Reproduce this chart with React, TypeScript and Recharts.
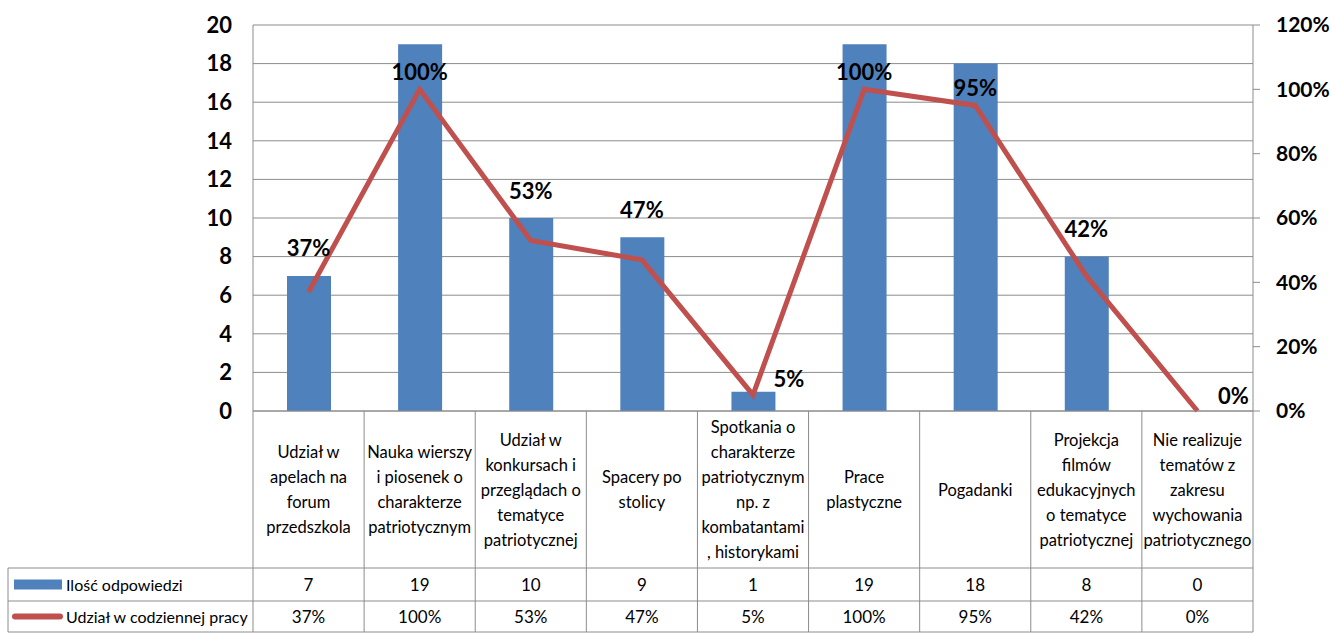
import { Bar, CartesianGrid, ComposedChart, Line, XAxis, YAxis } from "recharts";

const categories = [
    "Udział w\napelach na\nforum\nprzedszkola",
    "Nauka wierszy\ni piosenek o\ncharakterze\npatriotycznym",
    "Udział w\nkonkursach i\nprzeglądach o\ntematyce\npatriotycznej",
    "Spacery po\nstolicy",
    "Spotkania o\ncharakterze\npatriotycznym\nnp. z\nkombatantami\n, historykami",
    "Prace\nplastyczne",
    "Pogadanki",
    "Projekcja\nfilmów\nedukacyjnych\no tematyce\npatriotycznej",
    "Nie realizuje\ntematów z\nzakresu\nwychowania\npatriotycznego",
];

const answerCounts = [7, 19, 10, 9, 1, 19, 18, 8, 0];
const dailyShare = [37, 100, 53, 47, 5, 100, 95, 42, 0];

const countTicks = [0, 2, 4, 6, 8, 10, 12, 14, 16, 18, 20];
const shareTicks = [0, 20, 40, 60, 80, 100, 120];

const seriesNames = ["Ilość odpowiedzi", "Udział w codziennej pracy"];

const data = categories.map((name, i) => ({
    name,
    count: answerCounts[i],
    share: dailyShare[i],
}));

const BLUE = "#4F81BD";
const RED = "#C0504D";
const GRID = "#8c8c8c";
const FONT = 'Lato, "Liberation Sans", sans-serif';

// plot area in page pixels
const W = 1334;
const H = 633;
const plot = { left: 253, right: 1253, top: 25, bottom: 411 };
const plotH = plot.bottom - plot.top;
const colW = (plot.right - plot.left) / categories.length;
const rowTop = 568;
const rowMid = 601;
const rowEnd = 632;

const TableTick = (props: any) => {
    const { x, payload, index } = props;
    const lines = String(payload.value).split("\n");
    const lineH = 25;
    const startY = (plot.bottom + rowTop) / 2 - ((lines.length - 1) * lineH) / 2;
    const left = x - colW / 2;
    return (
        <g>
            <line x1={left} y1={plot.bottom} x2={left} y2={rowEnd} stroke={GRID} />
            {index === categories.length - 1 && (
                <line x1={left + colW} y1={plot.bottom} x2={left + colW} y2={rowEnd} stroke={GRID} />
            )}
            {lines.map((t, i) => (
                <text key={i} x={x} y={startY + i * lineH} textAnchor="middle" dominantBaseline="central" fontSize={16.5} fill="#000">
                    {t}
                </text>
            ))}
            <text x={x} y={(rowTop + rowMid) / 2} textAnchor="middle" dominantBaseline="central" fontSize={17} fill="#000">
                {answerCounts[index]}
            </text>
            <text x={x} y={(rowMid + rowEnd) / 2} textAnchor="middle" dominantBaseline="central" fontSize={17} fill="#000">
                {dailyShare[index]}%
            </text>
            {index === 0 && (
                <g>
                    <line x1={8} y1={rowTop} x2={plot.right} y2={rowTop} stroke={GRID} />
                    <line x1={8} y1={rowMid} x2={plot.right} y2={rowMid} stroke={GRID} />
                    <line x1={8} y1={rowEnd} x2={plot.right} y2={rowEnd} stroke={GRID} />
                    <line x1={8} y1={rowTop} x2={8} y2={rowEnd} stroke={GRID} />
                    <rect x={14} y={(rowTop + rowMid) / 2 - 5} width={48} height={10} fill={BLUE} />
                    <line x1={15} y1={(rowMid + rowEnd) / 2} x2={60} y2={(rowMid + rowEnd) / 2} stroke={RED} strokeWidth={6} strokeLinecap="round" />
                    <text x={66} y={(rowTop + rowMid) / 2} dominantBaseline="central" fontSize={16} fill="#000">
                        {seriesNames[0]}
                    </text>
                    <text x={66} y={(rowMid + rowEnd) / 2} dominantBaseline="central" fontSize={16} fill="#000">
                        {seriesNames[1]}
                    </text>
                </g>
            )}
        </g>
    );
};

const ShareLabel = (props: any) => {
    const { x, y, index, value } = props;
    const barTop = plot.bottom - (answerCounts[index] / 20) * plotH;
    let ly = y - 18;
    let lx = x;
    if (plot.bottom - y < 30) {
        lx = x + 36;
        ly = y - 16;
    } else if (barTop > y - 30) {
        ly = Math.min(y - 18, barTop - 28);
    }
    return (
        <text x={lx} y={ly} textAnchor="middle" dominantBaseline="central" fontSize={22} fontWeight="bold" fill="#000">
            {value}%
        </text>
    );
};

export default function App() {
    return (
        <div style={{ position: "absolute", left: 0, top: 0, background: "#fff", fontFamily: FONT }}>
            <ComposedChart width={W} height={H} data={data} margin={{ top: 25, right: 11, bottom: 0, left: 193 }}>
                <CartesianGrid yAxisId="left" vertical={false} stroke={GRID} />
                <XAxis
                    dataKey="name"
                    height={222}
                    interval={0}
                    tickLine={false}
                    axisLine={{ stroke: GRID }}
                    tick={TableTick}
                />
                <YAxis
                    yAxisId="left"
                    width={60}
                    domain={[0, 20]}
                    ticks={countTicks}
                    interval={0}
                    tickLine={false}
                    tickSize={0}
                    tickMargin={21}
                    axisLine={{ stroke: GRID }}
                    tick={{ fill: "#000", fontSize: 22, fontWeight: "bold" }}
                />
                <YAxis
                    yAxisId="right"
                    orientation="right"
                    width={70}
                    domain={[0, 120]}
                    ticks={shareTicks}
                    interval={0}
                    tickSize={7}
                    tickMargin={16}
                    tickLine={{ stroke: GRID }}
                    axisLine={{ stroke: GRID }}
                    tickFormatter={(v: number) => `${v}%`}
                    tick={{ fill: "#000", fontSize: 21, fontWeight: "bold", textAnchor: "start" }}
                />
                <Bar yAxisId="left" dataKey="count" name={seriesNames[0]} fill={BLUE} barSize={44} isAnimationActive={false} />
                <Line
                    yAxisId="right"
                    dataKey="share"
                    name={seriesNames[1]}
                    stroke={RED}
                    strokeWidth={5}
                    dot={false}
                    activeDot={false}
                    type="linear"
                    label={ShareLabel}
                    isAnimationActive={false}
                />
            </ComposedChart>
        </div>
    );
}
